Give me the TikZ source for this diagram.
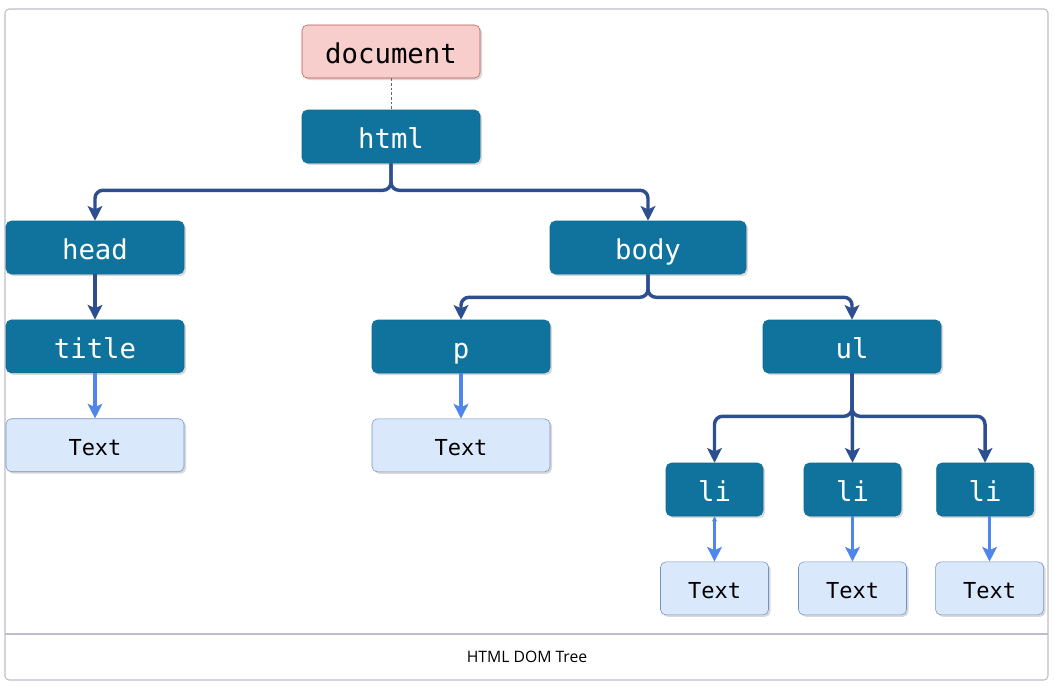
\documentclass[tikz,border=0pt]{standalone}
\usepackage{fontspec}
\setmainfont{Open Sans}
\setmonofont{DejaVu Sans Mono}
\usepackage{xcolor}
\usetikzlibrary{positioning, arrows.meta, shadows}

\definecolor{elemfill}{HTML}{10739E}
\definecolor{elemline}{HTML}{0E6A92}
\definecolor{docfill}{HTML}{F8CECC}
\definecolor{docline}{HTML}{B85450}
\definecolor{txtfill}{HTML}{DAE8FC}
\definecolor{txtline}{HTML}{7391C4}
\definecolor{treeblue}{HTML}{2E4F8F}
\definecolor{leafblue}{HTML}{4F86EC}
\definecolor{framegray}{HTML}{BDBDCB}

\begin{document}
\begin{tikzpicture}[
        x=0.75pt, y=-0.75pt,
        node distance=34pt,
        box/.style={rectangle, rounded corners=4pt, draw, minimum height=39.75pt, inner sep=0pt, align=center,
            drop shadow={opacity=0.3, shadow xshift=1.5pt, shadow yshift=-1.5pt}},
        elem/.style={box, fill=elemfill, draw=elemline, text=white, minimum width=133.5pt,
            text height=18.5pt, text depth=0.5pt, font=\ttfamily\fontsize{20.5}{20.5}\selectfont},
        docbox/.style={box, fill=docfill, draw=docline, minimum width=133.5pt,
            text height=18.5pt, text depth=0.5pt, font=\ttfamily\fontsize{20.5}{20.5}\selectfont},
        textbox/.style={box, fill=txtfill, draw=txtline, minimum width=133.5pt,
            text height=15pt, text depth=0pt, font=\ttfamily\fontsize{16.5}{16.5}\selectfont},
        tree/.style={-{Stealth[length=11pt, width=11pt, inset=2.5pt]}, line width=2.6pt, draw=treeblue, rounded corners=6pt},
        leaf/.style={-{Stealth[length=11pt, width=11pt, inset=2.5pt]}, line width=2.3pt, draw=leafblue},
    ]
        \useasboundingbox (0,0) rectangle (1055,686);

        % Frame and caption
        \draw[framegray, line width=0.8pt, rounded corners=3pt] (5,9) rectangle (1048,680);
        \draw[framegray, line width=0.8pt] (5,634) -- (1048,634);
        \node[font=\fontsize{11.8}{13}\selectfont, text=black] (caption) at (527,657) {HTML DOM Tree};

        % Root
        \node[docbox] (doc) at (391,51.5) {document};
        \node[elem] (html) at (391,136.5) {html};

        % Head branch
        \node[elem] (head) at (95,247.5) {head};
        \node[elem, below=of head] (title) {title};
        \node[textbox, below=of title] (t1) {Text};

        % Body branch
        \node[elem, minimum width=147pt] (body) at (648,247.5) {body};
        \node[elem] (p) at (461,346.5) {p};
        \node[textbox, below=of p] (t2) {Text};
        \node[elem] (ul) at (852,346.5) {ul};

        % List items
        \node[elem, minimum width=72.75pt] (li1) at (714.5,489.5) {li};
        \node[elem, minimum width=72.75pt] (li2) at (852.5,489.5) {li};
        \node[elem, minimum width=72.75pt] (li3) at (985,489.5) {li};
        \node[textbox, minimum width=81pt, below=of li1] (t3) {Text};
        \node[textbox, minimum width=81pt, below=of li2] (t4) {Text};
        \node[textbox, minimum width=81pt, below=of li3, xshift=3.4pt] (t5) {Text};

        % Connectors
        \draw[gray!80!black, line width=0.7pt, dash pattern=on 2pt off 1.5pt] (doc) -- (html);
        \draw[tree] (html.south) -- ++(0,27) -| (head.north);
        \draw[tree] (html.south) -- ++(0,27) -| (body.north);
        \draw[tree] (head) -- (title);
        \draw[tree] (body.south) -- ++(0,23) -| (p.north);
        \draw[tree] (body.south) -- ++(0,23) -| (ul.north);
        \draw[tree] (ul.south) -- ++(0,43) -| (li1.north);
        \draw[tree] (ul.south) -- ++(0,43) -| (li3.north);
        \draw[tree] (ul.south) -- (li2.north);

        \draw[leaf] (title) -- (t1);
        \draw[leaf] (p) -- (t2);
        \draw[leaf, {Stealth[length=4pt, width=4pt]}-{Stealth[length=11pt, width=11pt, inset=2.5pt]}] (li1) -- (t3);
        \draw[leaf] (li2) -- (t4);
        \draw[leaf] (t5.north |- li3.south) -- (t5.north);
    \end{tikzpicture}
\end{document}
